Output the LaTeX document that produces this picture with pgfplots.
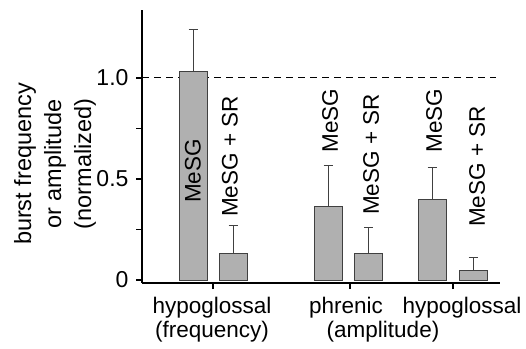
\documentclass[border=0pt]{standalone}
\usepackage{pgfplots}
\pgfplotsset{compat=1.18}
\usepackage{fontspec}
\setmainfont{Liberation Sans}
\begin{document}
\begin{tikzpicture}[x=1pt,y=-1pt,font=\fontsize{22.5}{26}\selectfont]
\useasboundingbox (0,0) rectangle (526,348);
\begin{axis}[
  at={(142pt,-283pt)}, anchor=south west,
  scale only axis, width=358pt, height=273pt,
  xmin=142, xmax=500,
  ymin=-0.0149, ymax=1.3366,
  axis lines=left,
  axis line style={line width=1.5pt, -},
  clip=false,
  xtick={213,350,453}, xticklabels={},
  ytick={0,0.25,0.5,0.75,1.0},
  yticklabels={0,{},0.5,{},1.0},
  tick align=outside,
  major tick length=6pt,
  tick style={line width=1.3pt, black},
  /pgf/number format/assume math mode=true,
  yticklabel style={font=\fontsize{23}{26}\selectfont, xshift=-4pt},
]
\addplot[dashed, dash pattern=on 7pt off 5pt, line width=1pt, black] coordinates {(142,1) (496,1)};
\addplot[ybar, bar width=28, fill=gray!62, draw=black!75, line width=0.9pt,
  error bars/.cd, y dir=plus, y explicit,
  error bar style={line width=1pt, black!75},
  error mark options={rotate=90, mark size=4.5pt, line width=1pt, black!75}]
  coordinates {
  (193,1.03) +- (0,0.21)
  (233,0.13) +- (0,0.14)
  (328,0.366) +- (0,0.20)
  (368.5,0.13) +- (0,0.13)
  (432,0.40) +- (0,0.155)
  (473,0.045) +- (0,0.065)
  };
\node[rotate=90, anchor=west, inner sep=0pt] at (axis cs:193,0.381) {MeSG};
\node[rotate=90, anchor=west, inner sep=0pt] at (axis cs:230,0.312) {MeSG + SR};
\node[rotate=90, anchor=west, inner sep=0pt] at (axis cs:330,0.629) {MeSG};
\node[rotate=90, anchor=west, inner sep=0pt] at (axis cs:371,0.322) {MeSG + SR};
\node[rotate=90, anchor=west, inner sep=0pt] at (axis cs:434,0.629) {MeSG};
\node[rotate=90, anchor=west, inner sep=0pt] at (axis cs:477,0.262) {MeSG + SR};
\end{axis}
\node[anchor=base] at (212,313) {hypoglossal};
\node[anchor=base] at (212,337) {(frequency)};
\node[anchor=base] at (346,313) {phrenic};
\node[anchor=base] at (462,313) {hypoglossal};
\node[anchor=base] at (383,337) {(amplitude)};
\node[rotate=90, align=center, font=\fontsize{23.5}{30}\selectfont] at (55,164) {burst frequency\\or amplitude\\(normalized)};
\end{tikzpicture}
\end{document}
